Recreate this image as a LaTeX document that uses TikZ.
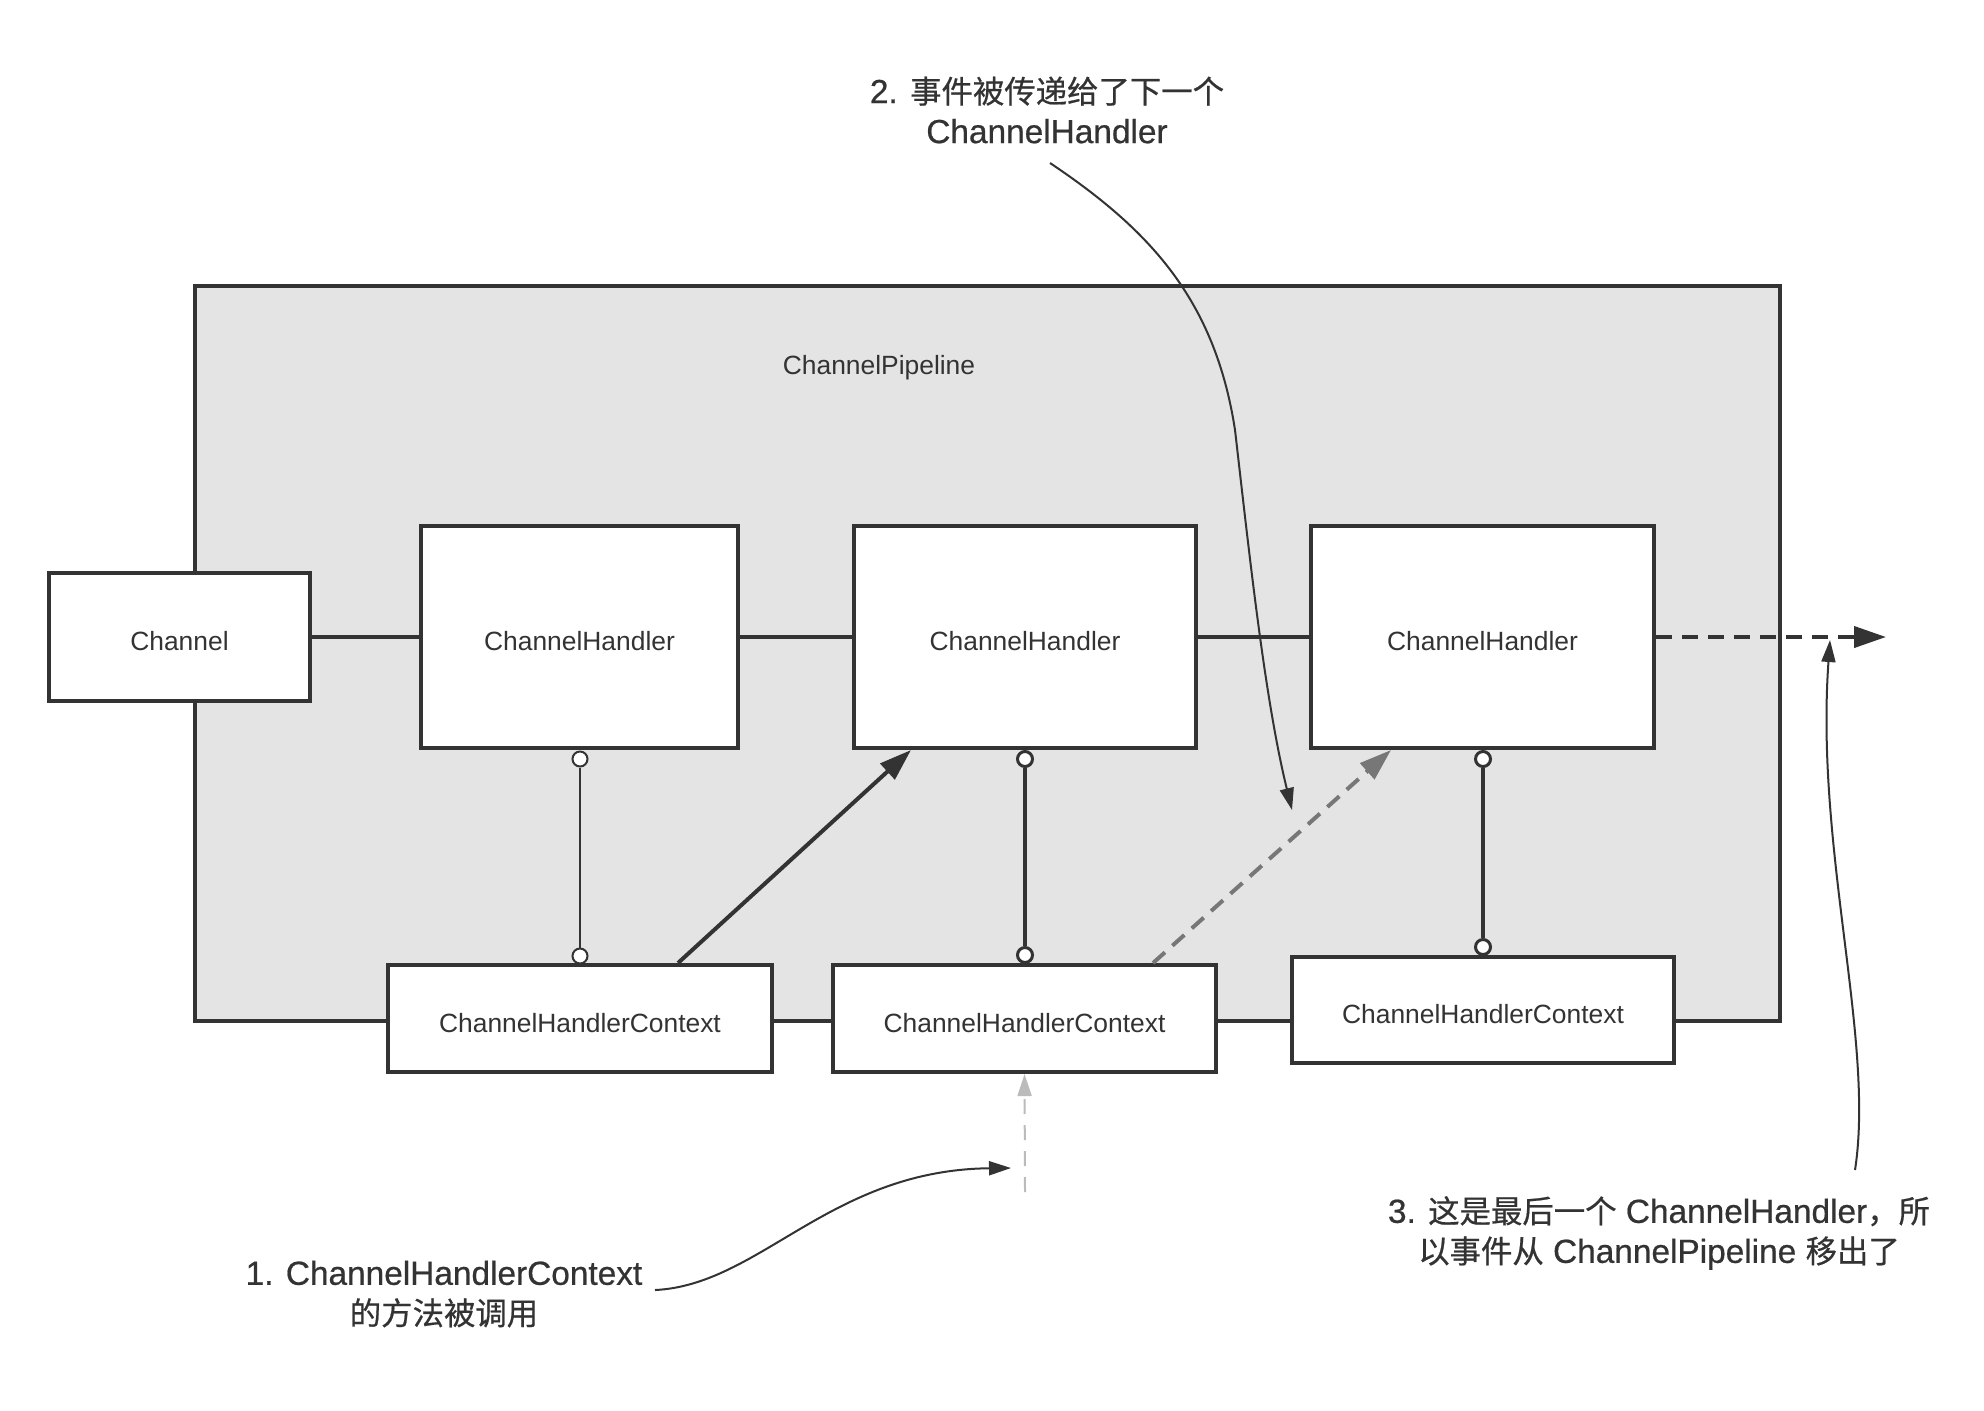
\documentclass[tikz,border=0pt]{standalone}
\usepackage{fontspec}
\setmainfont{Liberation Sans}
\newfontfamily\notefont[FakeBold=0.6]{Liberation Sans}
\newfontfamily\cjk[Scale=0.94,FakeBold=0.6]{Noto Sans CJK SC}
\usetikzlibrary{arrows.meta}
\definecolor{ink}{HTML}{333333}
\definecolor{pipefill}{HTML}{E4E4E4}
\definecolor{midgray}{HTML}{777777}
\definecolor{palegray}{HTML}{BBBBBB}

\begin{document}
\begin{tikzpicture}[x=0.5pt,y=-0.5pt,
  box/.style={draw=ink, line width=2pt, fill=white, text=ink,
    font=\fontsize{13.2}{16}\selectfont, inner sep=0pt,
    text height=13.6pt, text depth=0pt},
  link/.style={draw=ink, line width=2pt},
  thinlink/.style={draw=ink, line width=1pt},
  dot/.style={circle, draw=ink, fill=white, line width=1pt,
    minimum size=7.5pt, inner sep=0pt},
  bigtip/.style={-{Triangle[length=16pt,width=10.5pt]}},
  smalltip/.style={-{Triangle[length=11pt,width=7pt]}},
  dashes/.style={dash pattern=on 8pt off 5pt},
  note/.style={text=ink, align=center, font=\notefont\fontsize{16.7}{20}\selectfont, inner sep=0pt},
  pointer/.style={draw=ink, line width=1pt, smalltip},
]
\useasboundingbox (0,0) rectangle (1984,1410);
\fill[white] (0,0) rectangle (1984,1410);

% pipeline container
\node[draw=ink, fill=pipefill, line width=2pt, inner sep=0pt,
  minimum width=792.5pt, minimum height=367.5pt] (pipe) at (987.5,653.5) {};
\node[text=ink, font=\fontsize{13.2}{16}\selectfont] (pipelabel) at (879,368) {ChannelPipeline};

% channel and handlers
\node[box, minimum width=130.5pt, minimum height=64pt] (chan) at (179.5,637) {Channel};
\node[box, minimum width=158.5pt, minimum height=111pt] (h1) at (579.5,637) {ChannelHandler};
\node[box, minimum width=171pt, minimum height=111pt] (h2) at (1025,637) {ChannelHandler};
\node[box, minimum width=171.5pt, minimum height=111pt] (h3) at (1482.5,637) {ChannelHandler};

% contexts
\node[box, minimum width=192pt, minimum height=53.5pt] (c1) at (580,1018.5) {ChannelHandlerContext};
\node[box, minimum width=191.5pt, minimum height=53.5pt] (c2) at (1024.5,1018.5) {ChannelHandlerContext};
\node[box, minimum width=191pt, minimum height=53pt] (c3) at (1483,1010) {ChannelHandlerContext};

% handler / context joints
\node[dot] (d1t) at (580,759) {};
\node[dot] (d1b) at (580,956) {};
\node[dot, line width=1.5pt] (d2t) at (1025,759) {};
\node[dot, line width=1.5pt] (d2b) at (1025,955) {};
\node[dot, line width=1.5pt] (d3t) at (1483,759) {};
\node[dot, line width=1.5pt] (d3b) at (1483,947) {};

\draw[thinlink] (d1t) -- (d1b);
\draw[link] (d2t) -- (d2b);
\draw[link] (d3t) -- (d3b);

% chain of handlers
\coordinate (exit) at (1886,637);
\draw[link] (chan.east) -- (h1.west);
\draw[link] (h1.east) -- (h2.west);
\draw[link] (h2.east) -- (h3.west);
\draw[link, dashes, bigtip] (h3.east) -- (exit);

% event flow
\draw[link, bigtip] ([xshift=49pt]c1.north) -- ([xshift=-57pt]h2.south);
\draw[draw=midgray, line width=2pt, dashes, bigtip] ([xshift=64.25pt]c2.north) -- ([xshift=-45.75pt]h3.south);
\coordinate (vb) at (1025,1192);
\draw[draw=palegray, line width=1pt, dash pattern=on 7.5pt off 5.5pt, smalltip] (vb) -- (c2.south);

% annotations
\node[note] (a2) at (1047,110) {2. {\cjk 事件被传递给了下一个}\\ChannelHandler};
\node[note] (a1) at (444,1294) {1. ChannelHandlerContext\\{\cjk 的方法被调用}};
\node[note] (a3) at (1659,1233) {3. {\cjk 这是最后一个} ChannelHandler{\cjk ，所}\\{\cjk 以事件从} ChannelPipeline {\cjk 移出了}};

\coordinate (a2s) at (1050,163);
\coordinate (a2e) at (1292,810);
\coordinate (a1s) at (655,1290);
\coordinate (a1e) at (1011,1168);
\coordinate (a3s) at (1855,1170);
\coordinate (a3e) at (1830,640);

\draw[pointer] (a2s) .. controls (1150,230) and (1215,300) .. (1235,430)
  .. controls (1250,560) and (1265,700) .. (a2e);
\draw[pointer] (a1s) .. controls (760,1285) and (830,1170) .. (a1e);
\draw[pointer] (a3s) .. controls (1875,1040) and (1815,850) .. (a3e);
\end{tikzpicture}
\end{document}
